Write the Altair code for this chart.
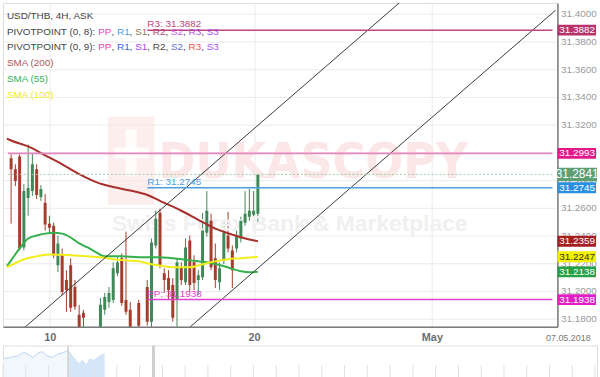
import altair as alt
import pandas as pd

# ---------------- candles (4H bars, index 0 = first visible bar) ----------------
opens = [31.2957, 31.2879, 31.2971, 31.2314, 31.2671, 31.2721, 31.2879, 31.2679, 31.2636, 31.2486,
         31.2471, 31.2186, 31.2264, 31.2079, 31.2186, 31.2029, 31.1829, 31.1843, 31.1700, 31.1640,
         31.1680, 31.1650, 31.1864, 31.1921, 31.1936, 31.2129, 31.2236, 31.1936, 31.1864, 31.1720,
         31.1914, 31.1720, 31.2029, 31.1779, 31.2329, 31.2564, 31.2129, 31.2093, 31.2043, 31.1936,
         31.2171, 31.2064, 31.2364, 31.2207, 31.2079, 31.2100, 31.2421, 31.2507, 31.2236, 31.2064,
         31.2221, 31.2400, 31.2293, 31.2307, 31.2379, 31.2493, 31.2536, 31.2550, 31.2557]
highs = [31.2986, 31.2914, 31.2986, 31.2771, 31.3057, 31.2993, 31.2914, 31.2764, 31.2700, 31.2543,
         31.2493, 31.2400, 31.2307, 31.2150, 31.2236, 31.2079, 31.1900, 31.1864, 31.1725, 31.1700,
         31.1720, 31.1950, 31.1986, 31.2029, 31.2207, 31.2243, 31.2271, 31.2429, 31.1921, 31.1730,
         31.1936, 31.1732, 31.2079, 31.2379, 31.2579, 31.2593, 31.2164, 31.2150, 31.2093, 31.2236,
         31.2207, 31.2379, 31.2400, 31.2257, 31.2150, 31.2564, 31.2721, 31.2557, 31.2343, 31.2207,
         31.2507, 31.2571, 31.2329, 31.2436, 31.2536, 31.2721, 31.2736, 31.2721, 31.2850]
lows = [31.2486, 31.2757, 31.2293, 31.2293, 31.2543, 31.2686, 31.2664, 31.2650, 31.2436, 31.2421,
        31.2236, 31.2136, 31.1971, 31.1850, 31.1850, 31.1864, 31.1686, 31.1686, 31.1600, 31.1580,
        31.1620, 31.1614, 31.1829, 31.1879, 31.1914, 31.2107, 31.1893, 31.1829, 31.1686, 31.1620,
        31.1686, 31.1640, 31.1750, 31.1721, 31.2307, 31.2164, 31.1986, 31.1936, 31.1779, 31.1736,
        31.2043, 31.2043, 31.1993, 31.2007, 31.1971, 31.2079, 31.2393, 31.2150, 31.2021, 31.2007,
        31.2193, 31.2279, 31.2021, 31.2279, 31.2350, 31.2471, 31.2507, 31.2486, 31.2486]
closes = [31.2879, 31.2793, 31.2307, 31.2721, 31.2743, 31.2914, 31.2693, 31.2736, 31.2479, 31.2457,
          31.2257, 31.2343, 31.1993, 31.2007, 31.1879, 31.1886, 31.1721, 31.1807, 31.1640, 31.1680,
          31.1650, 31.1900, 31.1957, 31.1986, 31.2164, 31.2207, 31.1914, 31.1850, 31.1743, 31.1660,
          31.1750, 31.1690, 31.1779, 31.2350, 31.2521, 31.2186, 31.2079, 31.2007, 31.1807, 31.2207,
          31.2079, 31.2314, 31.2043, 31.2057, 31.2114, 31.2436, 31.2579, 31.2171, 31.2079, 31.2164,
          31.2421, 31.2307, 31.2150, 31.2400, 31.2507, 31.2557, 31.2579, 31.2579, 31.2841]

# ---------------- moving averages (read at bar indices; -1 = left edge) ----------------
sma200_i = [-1, 0, 4, 8, 12, 16, 20, 24, 28, 32, 36, 40, 44, 48, 52, 56, 58]
sma200_v = [31.3100, 31.3086, 31.3043, 31.2979, 31.2914, 31.2843, 31.2786, 31.2750, 31.2725,
            31.2693, 31.2636, 31.2579, 31.2514, 31.2450, 31.2407, 31.2371, 31.2359]
sma55_i = [-1, 0, 2, 4, 6, 8, 10, 12, 14, 16, 18, 20, 22, 26, 30, 34, 38, 42, 46, 50, 54, 56, 58]
sma55_v = [31.2180, 31.2221, 31.2307, 31.2379, 31.2400, 31.2414, 31.2421, 31.2414, 31.2386,
           31.2343, 31.2314, 31.2279, 31.2250, 31.2250, 31.2243, 31.2243, 31.2236, 31.2221,
           31.2207, 31.2179, 31.2143, 31.2136, 31.2138]
sma100_i = [-1, 0, 3, 6, 9, 12, 15, 18, 21, 24, 27, 30, 33, 36, 39, 42, 45, 48, 51, 54, 56, 58]
sma100_v = [31.2172, 31.2186, 31.2229, 31.2250, 31.2264, 31.2261, 31.2257, 31.2250, 31.2243,
            31.2229, 31.2221, 31.2214, 31.2193, 31.2179, 31.2171, 31.2171, 31.2193, 31.2214,
            31.2229, 31.2236, 31.2241, 31.2247]

# ---------------- channel lines (anchor points: bar index, price) ----------------
chan_id = ["upper", "upper", "lower", "lower"]
chan_i = [0, 92, 38, 128]
chan_v = [31.16525, 31.40988, 31.16328, 31.40259]

# ---------------- pivot / level lines ----------------
lvl_val = [31.3882, 31.2993, 31.2745, 31.1938]
lvl_start = [32, -0.75, 32, 32]
lvl_color = ["#c2457a", "#e585bd", "#4a9fe6", "#e040cf"]
lvl_label = ["R3: 31.3882", "", "R1: 31.2745", "PP: 31.1938"]
current_price = 31.2841

# ---------------- right-hand value boxes ----------------
box_val = [31.3882, 31.2993, 31.2745, 31.2359, 31.2247, 31.2138, 31.1938]
box_bg = ["#b8336a", "#e3198a", "#2b8fe0", "#a3201f", "#f3f000", "#25a244", "#e01ec4"]
box_fg = ["#ffffff", "#ffffff", "#ffffff", "#ffffff", "#333333", "#ffffff", "#ffffff"]
cur_bg = "#5e9e73"

# ---------------- axes ----------------
y_ticks = [31.18, 31.20, 31.22, 31.24, 31.26, 31.28, 31.30, 31.32, 31.34, 31.36, 31.38, 31.40]
x_tick_pos = [9.1, 57.1, 98.9]
x_tick_lab = ["10", "20", "May"]
right_date = "07.05.2018"

# ---------------- legend texts ----------------
title_text = "USD/THB, 4H, ASK"
pivot_names = ["PP", "R1", "S1", "R2", "S2", "R3", "S3"]
pivot8_colors = ["#ee3fc0", "#3e9eee", "#8c7c55", "#b24878", "#c462ee", "#b253e4", "#a455f2"]
pivot9_colors = ["#ee40b0", "#3062ee", "#b042f0", "#454545", "#6070de", "#f05252", "#a455f2"]
sma_names = ["SMA (200)", "SMA (55)", "SMA (100)"]
sma_colors = ["#b85555", "#35b455", "#f0ee10"]

# ---------------- navigator ----------------
nav_t = [0, 7.7, 15.3, 21, 24.9, 30.6, 36.4, 40.2, 44, 49.8, 55.5, 61.2, 65.8, 70.8, 76.5,
         80.4, 84.2, 88, 91.8, 95.7, 98.7, 102.6]
nav_v = [20.3, 22, 23.7, 27, 25.3, 22, 27, 27.7, 23.7, 22, 25.3, 27, 28.7, 22, 15.3, 18.7,
         13.7, 20.3, 18.7, 22, 23.7, 25.3]
nav_sel_start = 65.8
nav_handle = 152
nav_ticks = list(range(0, 600, 23))

FONT = "Liberation Sans"
C_UP = "#418859"
C_DN = "#a53c2c"

candles = pd.DataFrame({"i": list(range(len(opens))), "o": opens, "h": highs, "l": lows, "c": closes})
candles["dir"] = ["up" if c >= o else "down" for o, c in zip(opens, closes)]

xs = alt.Scale(domain=[-0.75, 127.25], nice=False, zero=False)
ys = alt.Scale(domain=[31.17429, 31.40786], nice=False, zero=False)
dir_scale = alt.Scale(domain=["up", "down"], range=[C_UP, C_DN])

# label expression for x axis built from the tick arrays
expr = "'" + x_tick_lab[-1] + "'"
for k in range(len(x_tick_pos) - 2, -1, -1):
    mid = (x_tick_pos[k] + x_tick_pos[k + 1]) / 2
    expr = f"datum.value < {mid} ? '{x_tick_lab[k]}' : ({expr})"

xaxis = alt.Axis(values=x_tick_pos, labelExpr=expr, labelFontWeight="bold", labelColor="#6e6e6e",
                 labelFontSize=11, labelFont=FONT, labelPadding=5, ticks=False, tickSize=0,
                 grid=True, gridColor="#ebebeb", domainColor="#7a7a7a", domainWidth=1.5,
                 title=None, zindex=0)
yaxis = alt.Axis(orient="right", values=y_ticks, format=".4f", labelColor="#999999",
                 labelFontSize=10, labelFont=FONT, labelPadding=3, ticks=False, tickSize=0,
                 grid=True, gridColor="#ebebeb", domainColor="#7a7a7a", domainWidth=1.5,
                 title=None, zindex=0)


def X(field):
    return alt.X(field, scale=xs, axis=xaxis)


def Y(field):
    return alt.Y(field, scale=ys, axis=yaxis)


one = pd.DataFrame({"k": [0]})

# watermark
logo = alt.Chart(one).mark_rect(color="#fbe2e2", opacity=0.6).encode(
    x=alt.value(106), x2=alt.value(153), y=alt.value(115), y2=alt.value(204))
logo_v = alt.Chart(one).mark_rect(color="#ffffff", opacity=0.8).encode(
    x=alt.value(124), x2=alt.value(135), y=alt.value(128), y2=alt.value(175))
logo_h = alt.Chart(one).mark_rect(color="#ffffff", opacity=0.8).encode(
    x=alt.value(112), x2=alt.value(147), y=alt.value(146), y2=alt.value(157))
wm1 = alt.Chart(pd.DataFrame({"t": ["DUKASCOPY"]})).mark_text(
    font="Liberation Sans Narrow, DejaVu Sans Condensed, Liberation Sans", fontWeight="bold",
    fontSize=50, color="#fbe7e7", align="left", baseline="middle").encode(
    text="t:N", x=alt.value(157), y=alt.value(162))
wm2 = alt.Chart(pd.DataFrame({"t": ["Swiss Forex Bank & Marketplace"]})).mark_text(
    font=FONT, fontWeight="bold", fontSize=23, color="#f0f0f0",
    align="left", baseline="middle").encode(text="t:N", x=alt.value(110), y=alt.value(223))

# candles
wick = alt.Chart(candles).mark_rule(strokeWidth=1, clip=True).encode(
    x=X("i:Q"), y=Y("l:Q"), y2="h:Q",
    color=alt.Color("dir:N", scale=dir_scale, legend=None))
body = alt.Chart(candles).mark_bar(width=3, clip=True).encode(
    x=X("i:Q"), y=Y("o:Q"), y2="c:Q",
    color=alt.Color("dir:N", scale=dir_scale, legend=None))


def sma_layer(ii, vv, color):
    df = pd.DataFrame({"i": ii, "v": vv})
    return alt.Chart(df).mark_line(color=color, strokeWidth=2, interpolate="monotone", clip=True).encode(
        x=X("i:Q"), y=Y("v:Q"))


sma200 = sma_layer(sma200_i, sma200_v, "#a8302c")
sma55 = sma_layer(sma55_i, sma55_v, "#33b04c")
sma100 = sma_layer(sma100_i, sma100_v, "#f2ee1c")

chan_df = pd.DataFrame({"id": chan_id, "i": chan_i, "v": chan_v})
channel = alt.Chart(chan_df).mark_line(color="#3a3a3a", strokeWidth=1, clip=True).encode(
    x=X("i:Q"), y=Y("v:Q"), detail="id:N")

lvl_df = pd.DataFrame({"v": lvl_val, "s": lvl_start, "e": [127.25] * len(lvl_val),
                       "col": lvl_color, "lab": lvl_label})
lvl_df["w"] = [1.5, 2, 1.5, 1.5]
levels = alt.Chart(lvl_df).mark_rule(clip=True).encode(
    x=X("s:Q"), x2="e:Q", y=Y("v:Q"),
    color=alt.Color("col:N", scale=None),
    strokeWidth=alt.StrokeWidth("w:Q", scale=None))
lvl_text = alt.Chart(lvl_df[lvl_df["lab"] != ""]).mark_text(
    align="left", baseline="bottom", dy=-1, fontSize=10, font=FONT).encode(
    x=X("s:Q"), y=Y("v:Q"), text="lab:N", color=alt.Color("col:N", scale=None))

cur_df = pd.DataFrame({"v": [current_price], "s": [-0.75], "e": [127.25],
                       "txt": [f"{current_price:.4f}"]})
cur_line = alt.Chart(cur_df).mark_rule(color="#9fcca6", strokeWidth=1, strokeDash=[2, 2]).encode(
    x=X("s:Q"), x2="e:Q", y=Y("v:Q"))

box_df = pd.DataFrame({"v": box_val, "bg": box_bg, "fg": box_fg,
                       "txt": [f"{v:.4f}" for v in box_val]})
boxes = alt.Chart(box_df).mark_point(
    shape="M-1,-0.28L1,-0.28L1,0.28L-1,0.28Z", size=1521, filled=True, opacity=1, strokeWidth=0).encode(
    x=alt.value(579.5), y=Y("v:Q"), color=alt.Color("bg:N", scale=None))
box_txt = alt.Chart(box_df).mark_text(fontSize=10, font=FONT, align="center", baseline="middle").encode(
    x=alt.value(580), y=Y("v:Q"), text="txt:N", color=alt.Color("fg:N", scale=None))
cur_box = alt.Chart(cur_df).mark_point(
    shape="M-1,-0.34L1,-0.34L1,0.34L-1,0.34Z", size=1600, filled=True, opacity=1, strokeWidth=0,
    color=cur_bg).encode(x=alt.value(580), y=Y("v:Q"))
cur_txt = alt.Chart(cur_df).mark_text(fontSize=12, font=FONT, align="center", baseline="middle",
                                      color="#ffffff").encode(
    x=alt.value(580), y=Y("v:Q"), text="txt:N")

date_txt = alt.Chart(pd.DataFrame({"t": [right_date]})).mark_text(
    fontSize=9, font=FONT, color="#7a7a7a", align="center", baseline="middle").encode(
    text="t:N", x=alt.value(571), y=alt.value(338))

# legend rows (positions computed from Arial-like glyph widths)
GW = {"P": 667, "I": 278, "V": 667, "O": 778, "T": 611, "N": 722, " ": 278, "(": 333, ")": 333,
      ",": 278, ":": 278, "R": 722, "S": 667, "U": 722, "D": 722, "/": 278, "H": 722, "B": 667,
      "A": 667, "K": 667, "M": 833}


def tw(s, size=10):
    return sum(GW.get(ch, 556) for ch in s) * size / 1000.0


rows = [[(title_text, "#444444")]]
for setname, cols in (("PIVOTPOINT (0, 8): ", pivot8_colors), ("PIVOTPOINT (0, 9): ", pivot9_colors)):
    segs = [(setname, "#444444")]
    for k, (nm, cl) in enumerate(zip(pivot_names, cols)):
        if k > 0:
            segs.append((", ", "#444444"))
        segs.append((nm, cl))
    rows.append(segs)
for nm, cl in zip(sma_names, sma_colors):
    rows.append([(nm, cl)])

legend_layers = []
for r, segs in enumerate(rows):
    px = 4.0
    for s, cl in segs:
        legend_layers.append(
            alt.Chart(pd.DataFrame({"t": [s]})).mark_text(
                fontSize=10, font=FONT, align="left", baseline="middle", color=cl).encode(
                text="t:N", x=alt.value(round(px, 1)), y=alt.value(13 + 16 * r)))
        px += tw(s)

main = alt.layer(
    wick, logo, logo_v, logo_h, wm1, wm2, body, sma200, sma55, sma100, channel, levels, cur_line,
    lvl_text, *legend_layers, boxes, box_txt, cur_box, cur_txt, date_txt
).properties(width=560, height=327)

# navigator strip
nav_df = pd.DataFrame({"t": nav_t, "v": nav_v})
nav_sel = nav_df[nav_df["t"] >= nav_sel_start]
nxs = alt.Scale(domain=[0, 600], nice=False, zero=False)
nys = alt.Scale(domain=[0, 34], nice=False)
nav_a1 = alt.Chart(nav_df).mark_area(color="#ebf3fc", line={"color": "#bcd5f1", "strokeWidth": 1}).encode(
    x=alt.X("t:Q", scale=nxs, axis=None), y=alt.Y("v:Q", scale=nys, axis=None))
nav_a2 = alt.Chart(nav_sel).mark_area(color="#d6e6f9").encode(
    x=alt.X("t:Q", scale=nxs, axis=None), y=alt.Y("v:Q", scale=nys, axis=None))
nav_tk = alt.Chart(pd.DataFrame({"t": nav_ticks})).mark_rule(color="#e2e2e2", strokeWidth=1).encode(
    x=alt.X("t:Q", scale=nxs, axis=None), y=alt.value(20), y2=alt.value(34))
nav_div = alt.Chart(pd.DataFrame({"t": [nav_sel_start, nav_handle], "w": [1.5, 3]})).mark_rule(
    color="#cfcfcf").encode(x=alt.X("t:Q", scale=nxs, axis=None),
                            strokeWidth=alt.StrokeWidth("w:Q", scale=None))
nav = alt.layer(nav_a1, nav_a2, nav_tk, nav_div).properties(width=600, height=34)

chart = alt.vconcat(main, nav, spacing=0).properties(
    padding=0, background="#ffffff"
).configure_view(stroke=None).configure(font=FONT)

chart.save("out.html", embed_options={"renderer": "svg", "actions": False})
